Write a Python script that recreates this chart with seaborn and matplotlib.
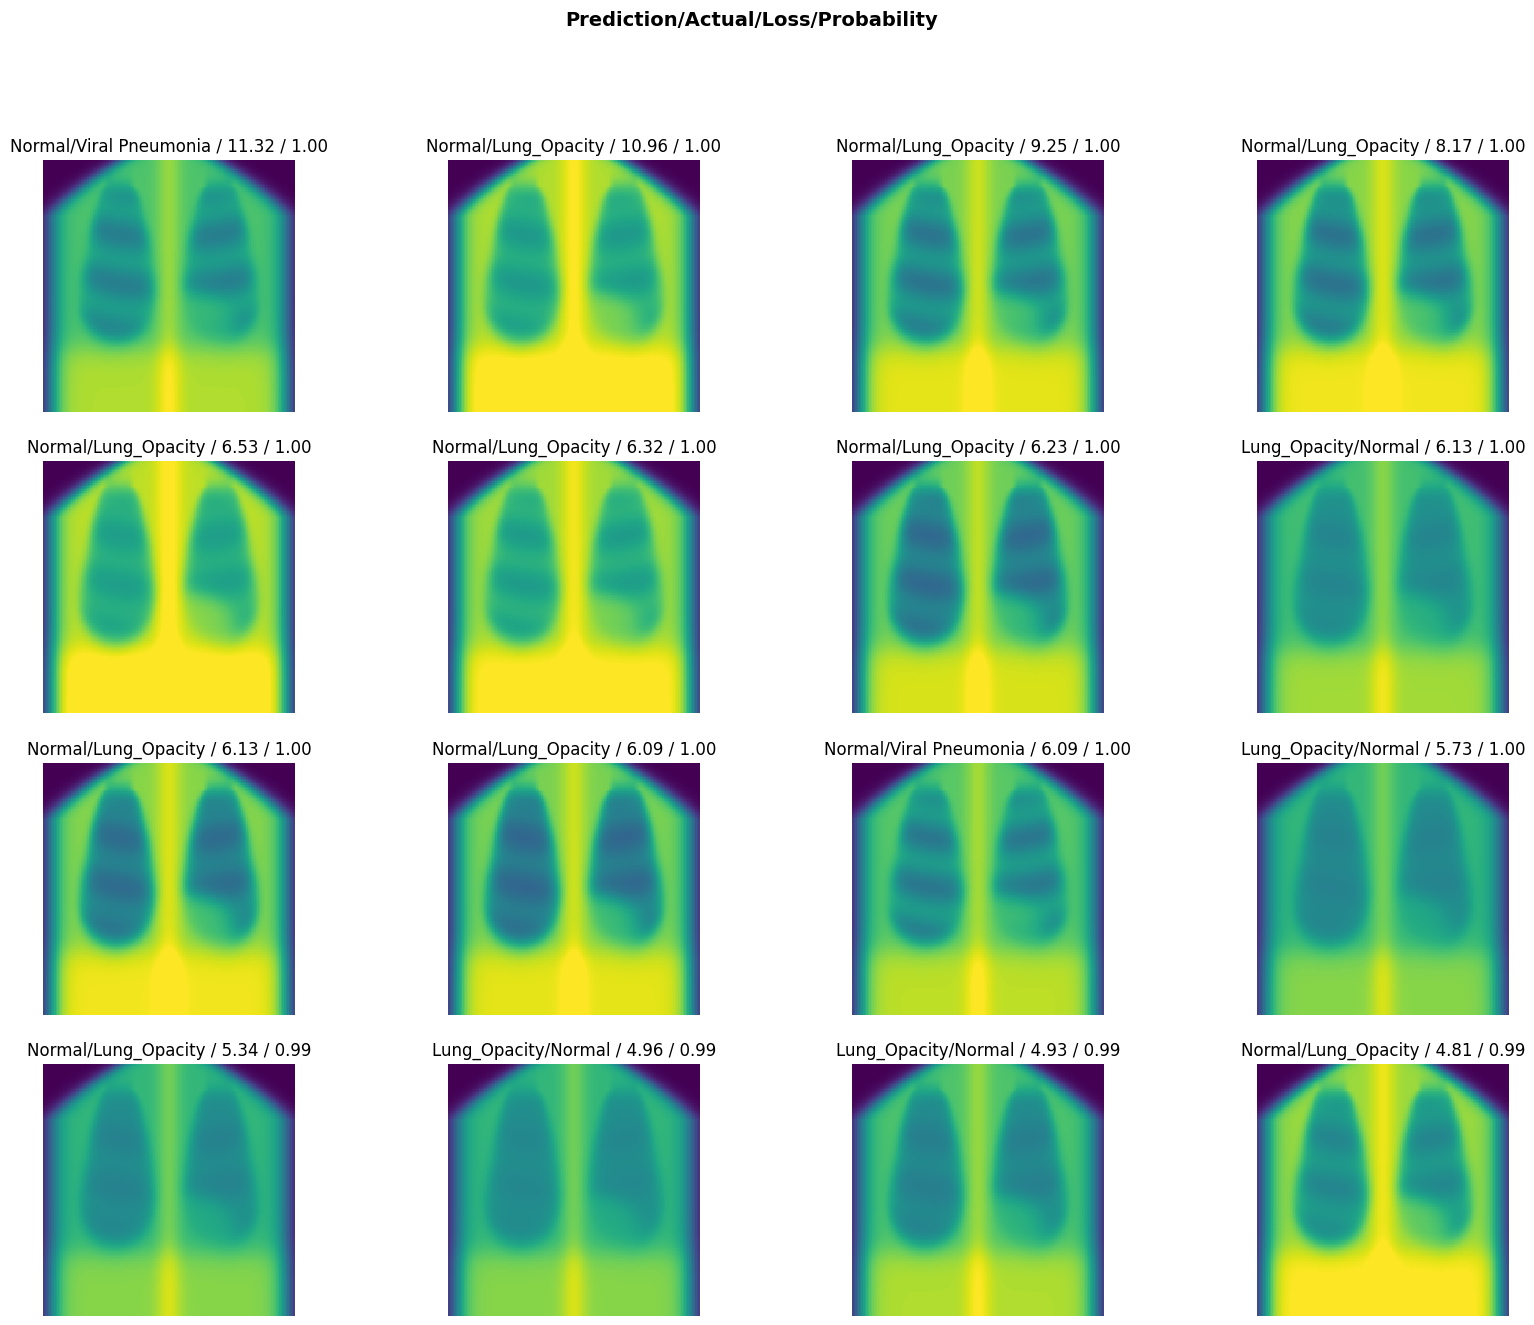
import numpy as np
import matplotlib
matplotlib.use('Agg')
import matplotlib.pyplot as plt
import seaborn as sns

# top losses: prediction / actual / loss / probability
preds = ['Normal', 'Normal', 'Normal', 'Normal',
         'Normal', 'Normal', 'Normal', 'Lung_Opacity',
         'Normal', 'Normal', 'Normal', 'Lung_Opacity',
         'Normal', 'Lung_Opacity', 'Lung_Opacity', 'Normal']
actuals = ['Viral Pneumonia', 'Lung_Opacity', 'Lung_Opacity', 'Lung_Opacity',
           'Lung_Opacity', 'Lung_Opacity', 'Lung_Opacity', 'Normal',
           'Lung_Opacity', 'Lung_Opacity', 'Viral Pneumonia', 'Normal',
           'Lung_Opacity', 'Normal', 'Normal', 'Lung_Opacity']
losses = [11.32, 10.96, 9.25, 8.17,
          6.53, 6.32, 6.23, 6.13,
          6.13, 6.09, 6.09, 5.73,
          5.34, 4.96, 4.93, 4.81]
probs = [1.00, 1.00, 1.00, 1.00,
         1.00, 1.00, 1.00, 1.00,
         1.00, 1.00, 1.00, 1.00,
         0.99, 0.99, 0.99, 0.99]
# rough tone of each x-ray (overall brightness, lung darkness, rib contrast)
bright = [0.72, 0.88, 0.80, 0.82, 0.90, 0.86, 0.78, 0.70,
          0.82, 0.80, 0.74, 0.66, 0.66, 0.66, 0.72, 0.85]
lung = [0.30, 0.35, 0.42, 0.45, 0.35, 0.32, 0.45, 0.25,
        0.48, 0.48, 0.35, 0.22, 0.22, 0.20, 0.30, 0.40]
ribs = [0.9, 0.5, 0.7, 0.6, 0.4, 0.6, 0.5, 0.3,
        0.4, 0.4, 0.9, 0.2, 0.3, 0.2, 0.3, 0.4]


def sig(z):
    return 1 / (1 + np.exp(-z))


def xray(b, l, r, n=160):
    # stylised chest x-ray used as a stand-in for the real image
    y, x = np.mgrid[-1:1:n * 1j, -1:1:n * 1j]
    ax_ = np.abs(x)
    edge = 0.94 - 0.55 * np.clip((-0.55 - y) / 0.45, 0, 1) ** 1.3
    body = sig((edge - ax_) / 0.05)
    # lungs: narrow apex, wide base, domed bottom
    half = 0.10 + 0.22 * np.clip((y + 0.8) / 1.2, 0, 1) ** 0.6
    cx = 0.40 + 0.04 * np.clip((y + 0.2), 0, 1)
    dx = (ax_ - cx) / (half + 1e-3)
    bottom = 0.45 - 0.25 * dx ** 2
    lungmask = sig((1 - dx ** 2) / 0.25) * sig((y + 0.78) / 0.05) * sig((bottom - y) / 0.05)
    # heart shadow on the left of the image's right side
    heart = sig((0.35 - np.hypot((x - 0.12) / 1.2, (y - 0.35) / 0.9)) / 0.05)
    lungmask *= 1 - 0.7 * heart * (x > 0)
    rib = 0.5 + 0.5 * np.cos(16 * (y + 0.45 * (ax_ - 0.2) ** 2))
    spine = 0.12 * np.exp(-(x / 0.10) ** 2)
    low = 0.16 * sig((y - 0.5) / 0.06)
    img = (b + spine + low) * body
    img -= l * lungmask * (1 - r * 0.45 + r * 0.45 * rib)
    return np.clip(img, 0, 1)


W, H = 1534, 1325
fig = plt.figure(figsize=(W / 100, H / 100), dpi=100)
col_left = [43, 448, 852, 1257]
row_top = [160, 461, 763, 1064]
size = 252

for i in range(16):
    r_, c_ = divmod(i, 4)
    ax = fig.add_axes([col_left[c_] / W, 1 - (row_top[r_] + size) / H, size / W, size / H])
    sns.heatmap(xray(bright[i], lung[i], ribs[i]), ax=ax, cmap='viridis', vmin=0, vmax=1,
                cbar=False, xticklabels=False, yticklabels=False, square=True,
                rasterized=True)
    ax.axis('off')
    ax.set_title(f'{preds[i]}/{actuals[i]} / {losses[i]:.2f} / {probs[i]:.2f}', fontsize=12)

fig.suptitle('Prediction/Actual/Loss/Probability', weight='bold', size=14, x=0.49, y=0.992)
fig.savefig('out.png', dpi=100)
